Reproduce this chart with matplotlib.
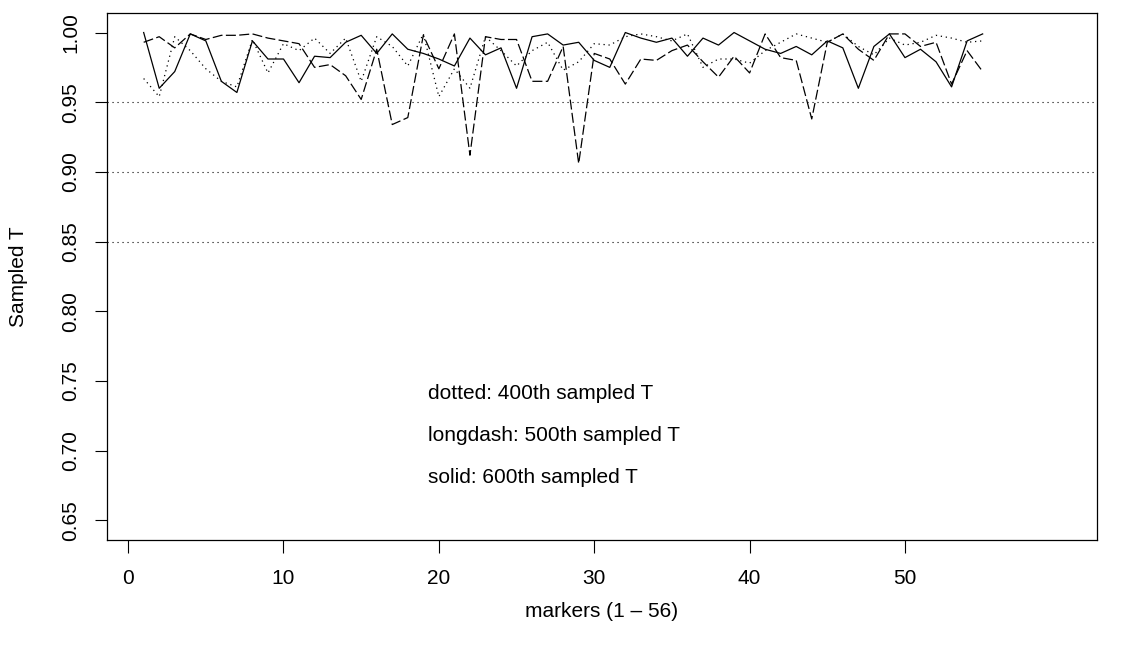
import matplotlib
matplotlib.use("Agg")
import matplotlib.pyplot as plt
import numpy as np

plt.rcParams['font.family'] = ['Liberation Sans', 'DejaVu Sans']

#%% data
markers = np.arange(1, 56)

t400 = [0.967, 0.954, 0.997, 0.987, 0.974, 0.965, 0.961, 0.995, 0.971, 0.992,
        0.987, 0.996, 0.985, 0.996, 0.965, 0.997, 0.990, 0.976, 0.999, 0.954,
        0.974, 0.960, 0.997, 0.987, 0.976, 0.987, 0.993, 0.973, 0.979, 0.992,
        0.991, 0.997, 0.999, 0.997, 0.994, 0.999, 0.975, 0.981, 0.981, 0.978,
        0.987, 0.993, 0.999, 0.996, 0.993, 0.999, 0.990, 0.984, 0.996, 0.991,
        0.993, 0.998, 0.996, 0.993, 0.994]

t500 = [0.993, 0.997, 0.989, 0.999, 0.995, 0.998, 0.998, 0.999, 0.996, 0.994,
        0.992, 0.975, 0.977, 0.969, 0.952, 0.988, 0.934, 0.939, 0.998, 0.974,
        0.999, 0.912, 0.997, 0.995, 0.995, 0.965, 0.965, 0.990, 0.906, 0.985,
        0.981, 0.963, 0.981, 0.980, 0.987, 0.991, 0.979, 0.968, 0.983, 0.971,
        0.999, 0.982, 0.980, 0.938, 0.993, 0.999, 0.988, 0.980, 0.999, 0.999,
        0.990, 0.993, 0.963, 0.987, 0.972]

t600 = [1.000, 0.960, 0.972, 0.999, 0.994, 0.965, 0.957, 0.994, 0.981, 0.981,
        0.964, 0.983, 0.982, 0.993, 0.998, 0.985, 0.999, 0.988, 0.985, 0.981,
        0.976, 0.996, 0.984, 0.989, 0.960, 0.997, 0.999, 0.991, 0.993, 0.980,
        0.975, 1.000, 0.996, 0.993, 0.996, 0.983, 0.996, 0.991, 1.000, 0.994,
        0.988, 0.985, 0.990, 0.984, 0.994, 0.989, 0.960, 0.990, 0.999, 0.982,
        0.988, 0.979, 0.961, 0.994, 0.999]

ref_lines = [0.95, 0.90, 0.85]
notes = ["dotted: 400th sampled T", "longdash: 500th sampled T", "solid: 600th sampled T"]
note_y = [0.741, 0.711, 0.681]

#%% plot
fig = plt.figure(figsize=(11.25, 6.45), dpi=100)
ax = fig.add_axes([107/1125, 1 - 540/645, (1097-107)/1125, (540-13)/645])

ax.plot(markers, t400, color='black', lw=0.9, linestyle=(0, (1, 3)))
ax.plot(markers, t500, color='black', lw=0.9, linestyle=(0, (8, 2.7)))
ax.plot(markers, t600, color='black', lw=0.9, linestyle='-')

for h in ref_lines:
    ax.axhline(h, color='black', lw=0.8, linestyle=(0, (1, 3.5)))

for s, yy in zip(notes, note_y):
    ax.text(19.3, yy, s, fontsize=15, ha='left', va='center')

ax.set_xlim(1 - 0.04*59, 60 + 0.04*59)
ax.set_ylim(0.65 - 0.014, 1.0 + 0.014)
ax.set_xticks([0, 10, 20, 30, 40, 50])
ax.set_yticks([0.65, 0.70, 0.75, 0.80, 0.85, 0.90, 0.95, 1.00])
ax.set_yticklabels(["%.2f" % v for v in ax.get_yticks()], rotation=90, va='center')
ax.tick_params(labelsize=15, length=9, width=0.8, direction='out')
ax.tick_params(axis='x', pad=12)
ax.tick_params(axis='y', pad=10)
ax.set_xlabel("markers (1 \u2013 56)", fontsize=15, labelpad=10)
ax.set_ylabel("Sampled T", fontsize=15, labelpad=24)
for sp in ax.spines.values():
    sp.set_linewidth(0.9)

fig.savefig("out.png", dpi=100)
